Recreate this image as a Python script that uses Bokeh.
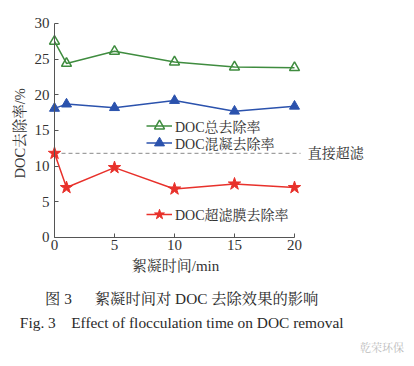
from bokeh.plotting import figure
from bokeh.models import Range1d, Legend, LegendItem, Label, FixedTicker
from bokeh.embed import file_html
from bokeh.resources import INLINE

# ---- data ----
time_min = [0, 1, 5, 10, 15, 20]
total_removal = [27.5, 24.4, 26.1, 24.6, 23.9, 23.8]
coag_removal = [18.1, 18.7, 18.2, 19.2, 17.7, 18.4]
membrane_removal = [11.8, 7.0, 9.8, 6.8, 7.5, 7.0]
direct_uf = 11.8
x_ticks = [0, 5, 10, 15, 20]
y_ticks = [0, 5, 10, 15, 20, 25, 30]
series_names = ["DOC总去除率", "DOC混凝去除率", "DOC超滤膜去除率"]
direct_label = "直接超滤"
x_title = "絮凝时间/min"
y_title = "DOC去除率/%"
caption_cn = "图 3\u3000\u2002絮凝时间对 DOC 去除效果的影响"
caption_en = "Fig. 3\u3000Effect of flocculation time on DOC removal"
watermark = "乾荣环保"

FONT = "'Liberation Serif', 'Noto Serif CJK SC', 'Noto Sans CJK SC', serif"
GREEN = "#3f8c3f"
BLUE = "#2b52ad"
RED = "#e8312b"
TXT = "#333333"
AX = "#555555"

W, H = 406, 358
x_lo, x_hi = -4.5, 29.333
y_lo, y_hi = -16.963, 33.224
p = figure(width=W, height=H, output_backend="svg", toolbar_location=None,
           x_range=Range1d(x_lo, x_hi), y_range=Range1d(y_lo, y_hi),
           min_border_left=0, min_border_right=0, min_border_top=0, min_border_bottom=0)
p.outline_line_color = None
p.grid.visible = False
p.background_fill_color = "white"
p.border_fill_color = "white"

for ax in (p.xaxis[0], p.yaxis[0]):
    ax.fixed_location = 0
    ax.axis_line_color = AX
    ax.major_tick_line_color = AX
    ax.major_tick_in = 4
    ax.major_tick_out = 0
    ax.minor_tick_line_color = None
    ax.major_label_text_font = FONT
    ax.major_label_text_font_size = "15px"
    ax.major_label_text_color = TXT

p.xaxis.ticker = FixedTicker(ticks=x_ticks)
p.yaxis.ticker = FixedTicker(ticks=y_ticks)
p.xaxis.bounds = (x_ticks[0], x_ticks[-1])
p.yaxis.bounds = (y_ticks[0], y_ticks[-1])
p.xaxis.major_label_standoff = 3
p.yaxis.major_label_standoff = 5

def text(x, y, s, size="14px", align="center", angle=0.0, color=TXT):
    p.add_layout(Label(x=x, y=y, text=s, angle=angle, text_align=align,
                       text_baseline="middle", text_font=FONT, text_font_size=size,
                       text_color=color))

text(-2.9, 14.6, y_title, size="14.5px", angle=1.5708)
text(10.08, -3.95, x_title, size="15px")

# dashed reference line (direct UF)
p.segment(x0=[time_min[0]], x1=[time_min[-1] + 0.5], y0=[direct_uf], y1=[direct_uf],
          line_color="#8a8a8a", line_width=1, line_dash="4 3")
text(21.1, direct_uf, direct_label, align="left")

g_line = p.line(time_min, total_removal, line_color=GREEN, line_width=1.5)
g_mark = p.scatter(time_min, total_removal, marker="triangle", size=10,
                   line_color=GREEN, line_width=1.5, fill_alpha=0)
b_line = p.line(time_min, coag_removal, line_color=BLUE, line_width=1.5)
b_mark = p.scatter(time_min, coag_removal, marker="triangle", size=10,
                   line_color=BLUE, fill_color=BLUE)
r_line = p.line(time_min, membrane_removal, line_color=RED, line_width=1.5)
r_mark = p.scatter(time_min, membrane_removal, marker="star", size=13,
                   line_color=RED, fill_color=RED)

def make_legend(label, rends, loc, gh):
    lg = Legend(items=[LegendItem(label=label, renderers=rends)], location=loc,
                glyph_width=26, glyph_height=gh, label_height=gh, spacing=0,
                padding=0, margin=0, label_standoff=3,
                border_line_color=None, background_fill_alpha=0,
                label_text_font=FONT, label_text_font_size="14px",
                label_text_color=TXT)
    p.add_layout(lg, "center")

make_legend(series_names[0], [g_line, g_mark], (146, 220), 25)
make_legend(series_names[1], [b_line, b_mark], (146, 203), 25)
make_legend(series_names[2], [r_line, r_mark], (146, 129), 30)

# captions
text(10.6, -8.55, caption_cn, size="15.3px", color="#2a2a2a")
text(10.6, -11.92, caption_en, size="15.4px", color="#2a2a2a")
text(27.3, -15.56, watermark, size="11px", color="#bdbdbd")

open("out.html", "w").write(file_html(p, INLINE))
